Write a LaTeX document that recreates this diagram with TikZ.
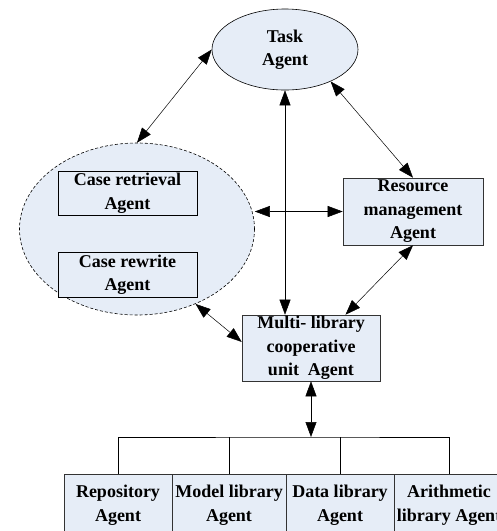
\documentclass[tikz,border=0pt]{standalone}
\usepackage{fontspec}
\setmainfont{Liberation Serif}
\usepackage{xcolor}
\usetikzlibrary{arrows.meta, positioning, shapes.geometric}
\definecolor{agfill}{RGB}{230,237,247}

\begin{document}
\begin{tikzpicture}[x=1pt, y=-1pt,
    every node/.style={font=\fontsize{18}{23.5}\selectfont\bfseries},
    el/.style={ellipse, draw, line width=0.6pt, fill=agfill, inner sep=0pt, align=center},
    ab/.style={draw=black!80, line width=0.6pt, fill=agfill, align=center, inner sep=1pt},
    lb/.style={ab, anchor=north, minimum height=62pt},
    a/.style={{Triangle[length=15pt,width=11pt]}-{Triangle[length=15pt,width=11pt]}, line width=0.5pt},
    l/.style={line width=0.6pt}
]
\useasboundingbox (0,0) rectangle (497,531);
\node[el, minimum width=146pt, minimum height=81pt] (task) at (285,49.5) {Task\\Agent};
\node[el, dashed, dash pattern=on 3pt off 2pt, minimum width=235pt, minimum height=172pt] (case) at (137,229) {};
\node[ab, draw=black, minimum width=139pt, minimum height=44pt] (retr) at (127.5,193) {Case retrieval\\Agent};
\node[ab, draw=black, minimum width=139pt, minimum height=45pt] (rewr) at (127.5,274.5) {Case rewrite\\Agent};
\node[ab, minimum width=140pt, minimum height=67pt] (res)   at (413,211.5) {Resource\\management\\Agent};
\node[ab, minimum width=138pt, minimum height=66pt] (multi) at (311,348)   {Multi- library\\cooperative\\unit\ \ Agent};
% libraries
\node[lb, minimum width=108pt] (repo)  at (118,474) {Repository\\Agent};
\node[lb, minimum width=114pt] (model) at (229,474) {Model library\\Agent};
\node[lb, minimum width=108pt] (data)  at (340,474) {Data library\\Agent};
\node[lb, minimum width=110pt] (arith) at (449,474) {Arithmetic\\library Agent};
\coordinate (bus) at (311,437);
\draw[a] (case.north) -- (task.west);
\draw[a] (task.-35) -- (res.north);
\draw[a] (task.south) -- (task.south |- multi.north);
\draw[a] (res.west -| case.east) -- (res.west);
\draw[a] (res.south) -- (multi.44);
\draw[a] (case.-52) -- (multi.175);
\draw[a] (multi.south) -- (bus);
\draw[l] (repo.north) |- (bus) -| (arith.north);
\draw[l] (model.north) -- (model.north |- bus);
\draw[l] (data.north) -- (data.north |- bus);
\end{tikzpicture}
\end{document}
